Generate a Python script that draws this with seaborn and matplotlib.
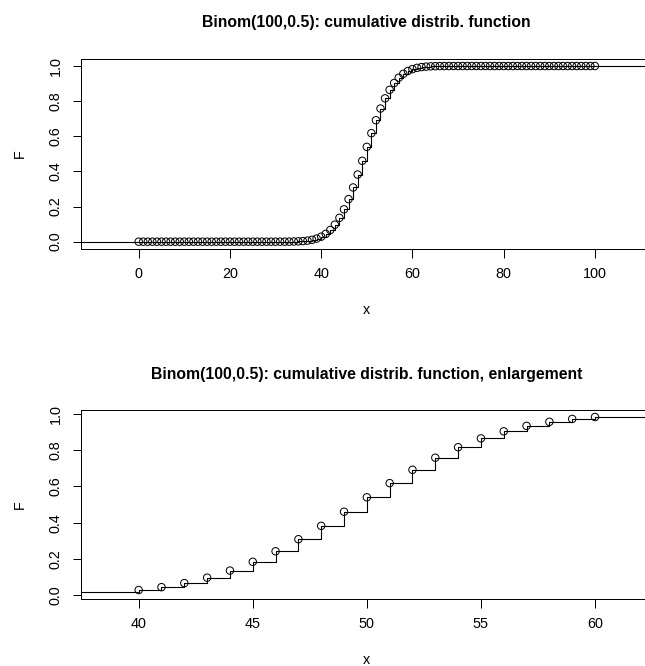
import matplotlib
matplotlib.use("Agg")
import matplotlib.pyplot as plt
import seaborn as sns
import pandas as pd

# Support points of Binom(100, 0.5) and the cumulative probabilities F(x)
x_vals = list(range(0, 101))
F_vals = [
    0.0, 0.0, 0.0, 0.0, 0.0, 0.0, 0.0, 0.0, 0.0, 0.0,
    0.0, 0.0, 0.0, 0.0, 0.0, 0.0, 0.0, 0.0, 0.0, 0.0,
    0.0, 0.0, 0.0, 0.0, 0.0, 0.0, 0.0, 0.0, 0.0, 0.0,
    0.0, 0.0001, 0.0002, 0.0004, 0.0009, 0.0018, 0.0033, 0.0060, 0.0105, 0.0176,
    0.0284, 0.0443, 0.0666, 0.0967, 0.1356, 0.1841, 0.2421, 0.3086, 0.3822, 0.4602,
    0.5398, 0.6178, 0.6914, 0.7579, 0.8159, 0.8644, 0.9033, 0.9334, 0.9557, 0.9716,
    0.9824, 0.9895, 0.9940, 0.9967, 0.9982, 0.9991, 0.9996, 0.9998, 0.9999, 1.0,
    1.0, 1.0, 1.0, 1.0, 1.0, 1.0, 1.0, 1.0, 1.0, 1.0,
    1.0, 1.0, 1.0, 1.0, 1.0, 1.0, 1.0, 1.0, 1.0, 1.0,
    1.0, 1.0, 1.0, 1.0, 1.0, 1.0, 1.0, 1.0, 1.0, 1.0,
    1.0,
]
zoom_lo, zoom_hi = 40, 60

title_full = "Binom(100,0.5): cumulative distrib. function"
title_zoom = "Binom(100,0.5): cumulative distrib. function, enlargement"
x_label = "x"
y_label = "F"
y_ticks = [0.0, 0.2, 0.4, 0.6, 0.8, 1.0]
x_ticks_full = [0, 20, 40, 60, 80, 100]
x_ticks_zoom = [40, 45, 50, 55, 60]

sns.set_style("white")
plt.rcParams["font.family"] = ["Liberation Sans", "DejaVu Sans"]

DPI = 72
W, H = 645, 666
fig = plt.figure(figsize=(W / DPI, H / DPI), dpi=DPI)

TICK_FS = 14.4
TITLE_FS = 15.8


def padded(lo, hi, frac):
    d = hi - lo
    return lo - frac * d, hi + frac * d


def step_panel(ax_rect, xs, fs, left_val, xlim, ylim, xticks, title):
    ax = fig.add_axes(ax_rect)
    # step function extended to both sides of the plotting range
    ext_x = [xlim[0] - 5] + list(xs) + [xlim[1] + 5]
    ext_f = [left_val] + list(fs) + [fs[-1]]
    df_line = pd.DataFrame({"x": ext_x, "F": ext_f})
    sns.lineplot(data=df_line, x="x", y="F", ax=ax, color="black", lw=1.1,
                 drawstyle="steps-post", estimator=None, sort=False)
    df_pts = pd.DataFrame({"x": xs, "F": fs})
    sns.scatterplot(data=df_pts, x="x", y="F", ax=ax, marker="o", s=55,
                    facecolors="none", edgecolors="black", linewidths=1.0,
                    zorder=3)
    ax.set_xlim(*xlim)
    ax.set_ylim(*ylim)
    ax.set_xticks(xticks)
    ax.set_xticklabels([str(t) for t in xticks])
    ax.set_yticks(y_ticks)
    ax.set_yticklabels([f"{t:.1f}" for t in y_ticks], rotation=90, va="center")
    ax.tick_params(axis="both", which="both", direction="out", length=8.5,
                   width=1.0, color="black", labelsize=TICK_FS, pad=10,
                   bottom=True, left=True, top=False, right=False,
                   labelcolor="black")
    for s in ax.spines.values():
        s.set_visible(True)
        s.set_color("black")
        s.set_linewidth(1.0)
    h_px = ax_rect[3] * H
    w_px = ax_rect[2] * W
    ax.set_xlabel(x_label, fontsize=TICK_FS, color="black")
    ax.xaxis.set_label_coords(0.5, -61 / h_px)
    ax.xaxis.label.set_va("center")
    ax.set_ylabel(y_label, fontsize=TICK_FS, color="black")
    ax.yaxis.set_label_coords(-61 / w_px, 0.5)
    ax.yaxis.label.set_va("center")
    ax.set_title(title, fontsize=TITLE_FS, fontweight="bold", color="black",
                 y=1 + 36 / h_px, va="center", pad=0)
    return ax


# full range
xl = padded(*padded(min(x_vals), max(x_vals), 0.08), 0.04)
yl = padded(0.0, 1.0, 0.04)
rect_top = [81 / W, 1 - 248.7 / H, (652.6 - 81) / W, (248.7 - 59) / H]
step_panel(rect_top, x_vals, F_vals, 0.0, xl, yl, x_ticks_full, title_full)

# enlargement around the centre
i0, i1 = x_vals.index(zoom_lo), x_vals.index(zoom_hi)
xs_z = x_vals[i0:i1 + 1]
fs_z = F_vals[i0:i1 + 1]
left_z = F_vals[i0 - 1]
xl_z = padded(*padded(zoom_lo, zoom_hi, 0.08), 0.04)
yl_z = padded(left_z, fs_z[-1], 0.04)
rect_bot = [81 / W, 1 - 599 / H, (652.7 - 81) / W, (599 - 410) / H]
step_panel(rect_bot, xs_z, fs_z, left_z, xl_z, yl_z, x_ticks_zoom, title_zoom)

fig.savefig("out.png", dpi=DPI, facecolor="white")
